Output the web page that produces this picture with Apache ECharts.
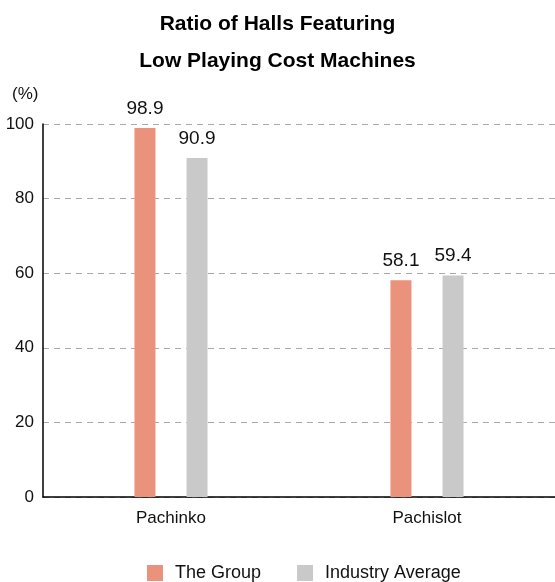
<!DOCTYPE html>
<html>
<head>
<meta charset="utf-8">
<script src="https://cdn.jsdelivr.net/npm/echarts@6/dist/echarts.min.js"></script>
<style>
  html, body { margin: 0; padding: 0; background: #fff; }
  #chart { width: 555px; height: 582px; }
</style>
</head>
<body>
<div id="chart"></div>
<script>
const categories = ['Pachinko', 'Pachislot'];
const groupValues = [98.9, 58.1];
const industryValues = [90.9, 59.4];
const seriesNames = ['The Group', 'Industry Average'];
const yTicks = { min: 0, max: 100, interval: 20 };

const FONT = '"Liberation Sans", Arial, sans-serif';

const chart = echarts.init(document.getElementById('chart'));

const labelStyle = {
  show: true,
  position: 'top',
  distance: 10,
  color: '#111',
  fontFamily: FONT,
  fontSize: 19
};

chart.setOption({
  animation: false,
  textStyle: { fontFamily: FONT },
  title: {
    text: 'Ratio of Halls Featuring\nLow Playing Cost Machines',
    left: 'center',
    top: 1,
    textStyle: {
      fontFamily: FONT,
      fontSize: 21,
      fontWeight: 'bold',
      color: '#000',
      lineHeight: 37
    }
  },
  graphic: [{
    type: 'text',
    left: 12,
    top: 86,
    style: { text: '(%)', font: '17px ' + FONT, fill: '#111' }
  }],
  legend: {
    top: 564,
    left: 147,
    padding: 0,
    itemWidth: 16,
    itemHeight: 16,
    itemGap: 36,
    icon: 'rect',
    textStyle: { fontFamily: FONT, fontSize: 18, color: '#111', padding: [0, 0, 0, 7] },
    data: seriesNames
  },
  grid: { left: 43, right: 0, top: 124, bottom: 85, containLabel: false },
  xAxis: {
    type: 'category',
    data: categories,
    axisLine: { lineStyle: { color: '#000', width: 1.5 } },
    axisTick: { show: false },
    axisLabel: { color: '#111', fontFamily: FONT, fontSize: 17, margin: 13 }
  },
  yAxis: {
    type: 'value',
    min: yTicks.min,
    max: yTicks.max,
    interval: yTicks.interval,
    axisLine: { show: true, lineStyle: { color: '#000', width: 1.5 } },
    axisTick: { show: false },
    axisLabel: { color: '#111', fontFamily: FONT, fontSize: 17, margin: 9 },
    splitLine: { lineStyle: { color: '#aaa', type: [6, 5], width: 1.2 } }
  },
  series: [
    {
      name: seriesNames[0],
      type: 'bar',
      data: groupValues,
      barWidth: 21,
      barGap: '148%',
      itemStyle: { color: '#EB927D' },
      label: labelStyle
    },
    {
      name: seriesNames[1],
      type: 'bar',
      data: industryValues,
      barWidth: 21,
      itemStyle: { color: '#C8C9C8' },
      label: labelStyle
    }
  ]
});
</script>
</body>
</html>
